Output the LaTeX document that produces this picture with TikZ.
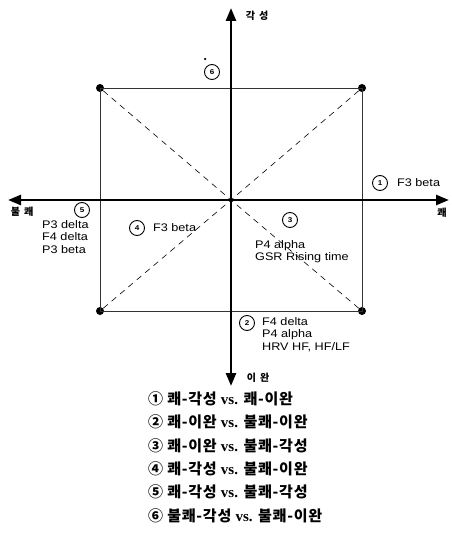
\documentclass[tikz,border=0pt]{standalone}
\usepackage{fontspec}
\setmainfont{Liberation Serif}
\newfontfamily\kr[LetterSpace=5]{Noto Sans CJK KR}
\newfontfamily\krsp[LetterSpace=40]{Noto Sans CJK KR}
\newfontfamily\lab[FakeStretch=1.15]{Liberation Sans}
\usetikzlibrary{arrows.meta, positioning, calc}

\begin{document}
\begin{tikzpicture}[x=1pt, y=-1pt,
    axis/.style={{Triangle[length=13pt,width=10pt]}-{Triangle[length=13pt,width=10pt]}, line width=2.6pt},
    frame/.style={line width=0.9pt, black!80},
    diag/.style={line width=0.6pt, dash pattern=on 6pt off 5pt},
    corner/.style={circle, fill=black, inner sep=0pt, minimum size=8pt},
    num/.style={circle, draw, line width=0.9pt, inner sep=0pt, minimum size=15pt, font=\lab\bfseries\fontsize{7}{7}\selectfont},
    lbl/.style={font=\lab\fontsize{11}{12.5}\selectfont, align=left, inner sep=0pt},
    pole/.style={font=\krsp\bfseries\fontsize{10}{10}\selectfont, inner sep=0pt},
    leg/.style={font=\kr\bfseries\fontsize{15}{15}\selectfont, anchor=west, inner sep=0pt}
]
    \useasboundingbox (0,0) rectangle (451,535);

    % axes
    \coordinate (o) at (231,200);
    \coordinate (top) at (231,8);
    \coordinate (bot) at (231,386);
    \coordinate (lft) at (8,200);
    \coordinate (rgt) at (449,200);

    % square corners
    \node[corner] (tl) at (100,88) {};
    \node[corner] (tr) at (362,88) {};
    \node[corner] (br) at (362,311) {};
    \node[corner] (bl) at (100,311) {};

    \draw[frame] (tl.center) -- (tr.center) -- (br.center) -- (bl.center) -- cycle;
    \foreach \c in {tl,tr,br,bl} {
        \draw[diag] (\c) -- (o);
    }
    \draw[axis] (bot) -- (top);
    \draw[axis] (lft) -- (rgt);

    % poles
    \node[pole] (arousal) at (257,16) {각성};
    \node[pole] (relax)   at (258,378) {이완};
    \node[pole] (unpl)    at (22,212) {불쾌};
    \node[pole] (pl)      at (442,213) {쾌};

    % comparisons
    \node[num] (n1) at (380,183) {1};
    \node[lbl, right=9pt of n1] (t1) {F3 beta};
    \node[num] (n2) at (247,323) {2};
    \node[lbl, anchor=north west] (t2) at (262,317) {F4 delta\\P4 alpha\\HRV HF, HF/LF};
    \node[num] (n3) at (290,220) {3};
    \node[lbl, anchor=north west] (t3) at (255,240) {P4 alpha\\GSR Rising time};
    \node[num] (n4) at (137,228) {4};
    \node[lbl, right=8pt of n4] (t4) {F3 beta};
    \node[num] (n5) at (82,210) {5};
    \node[lbl, anchor=north west] (t5) at (42,220) {P3 delta\\F4 delta\\P3 beta};
    \node[num] (n6) at (212,72) {6};
    \node[circle, fill=black, inner sep=0pt, minimum size=2.5pt] (dot6) at (205,59) {};

    % legend
    \foreach \m/\txt [count=\k] in {①/{쾌-각성 {\rmfamily vs.} 쾌-이완},
                                    ②/{쾌-이완 {\rmfamily vs.} 불쾌-이완},
                                    ③/{쾌-이완 {\rmfamily vs.} 불쾌-각성},
                                    ④/{쾌-각성 {\rmfamily vs.} 불쾌-이완},
                                    ⑤/{쾌-각성 {\rmfamily vs.} 불쾌-각성},
                                    ⑥/{불쾌-각성 {\rmfamily vs.} 불쾌-이완}} {
        \node[leg] (leg\k) at (148,{399+(\k-1)*23.3}) {\m\ \txt};
    }
\end{tikzpicture}
\end{document}
